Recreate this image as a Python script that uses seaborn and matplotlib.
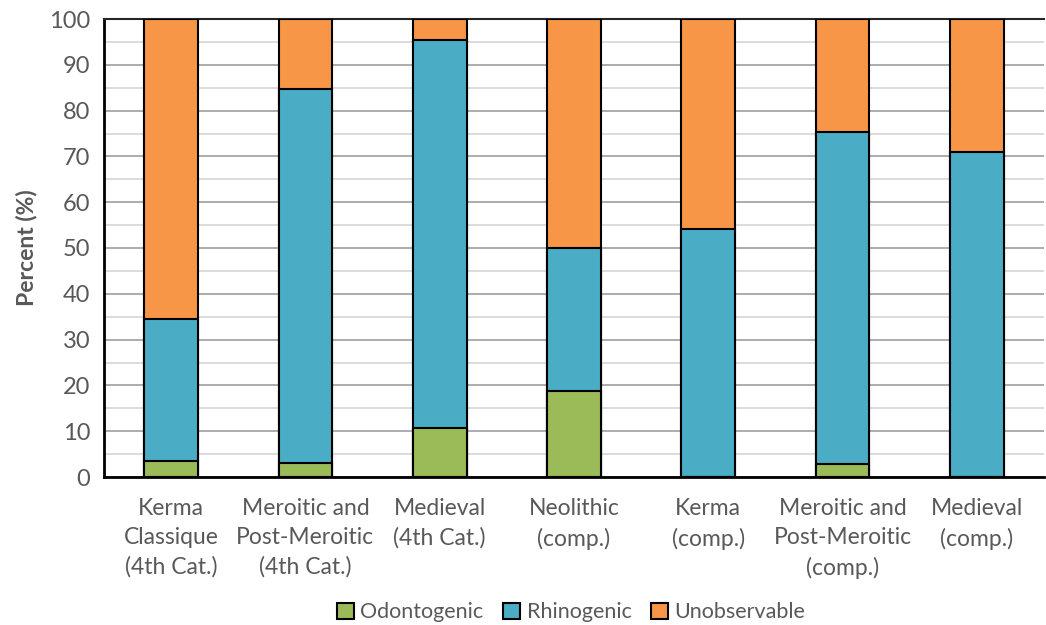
import matplotlib
matplotlib.use("Agg")
import matplotlib.pyplot as plt
import seaborn as sns
import pandas as pd
import numpy as np
from matplotlib.patches import Patch
from matplotlib.ticker import MultipleLocator

categories = [
    "Kerma\nClassique\n(4th Cat.)",
    "Meroitic and\nPost-Meroitic\n(4th Cat.)",
    "Medieval\n(4th Cat.)",
    "Neolithic\n(comp.)",
    "Kerma\n(comp.)",
    "Meroitic and\nPost-Meroitic\n(comp.)",
    "Medieval\n(comp.)",
]
odontogenic = [3.5, 3.0, 10.8, 18.8, 0.0, 2.9, 0.0]
rhinogenic = [31.0, 81.8, 84.7, 31.2, 54.2, 72.5, 70.9]
unobservable = [65.5, 15.2, 4.5, 50.0, 45.8, 24.6, 29.1]

series_names = ["Odontogenic", "Rhinogenic", "Unobservable"]
colors = {"Odontogenic": "#9BBB59", "Rhinogenic": "#4BACC6", "Unobservable": "#F79646"}
text_color = "#595959"

sns.set_theme(style="white")
plt.rcParams["font.family"] = ["Lato", "DejaVu Sans"]

df = pd.DataFrame({
    "category": categories,
    "Odontogenic": odontogenic,
    "Rhinogenic": rhinogenic,
    "Unobservable": unobservable,
})
# cumulative tops for stacking, drawn back-to-front
df["cum_odo"] = df["Odontogenic"]
df["cum_rhi"] = df["cum_odo"] + df["Rhinogenic"]
df["cum_uno"] = df["cum_rhi"] + df["Unobservable"]

fig = plt.figure(figsize=(10.46, 6.25), dpi=100)
ax = fig.add_axes([0.0994, 0.2368, 0.8986, 0.7328])

# gridlines behind bars
ax.set_axisbelow(True)
for layer, name in [("cum_uno", "Unobservable"), ("cum_rhi", "Rhinogenic"), ("cum_odo", "Odontogenic")]:
    sns.barplot(data=df, x="category", y=layer, color=colors[name], width=0.4,
                edgecolor="black", linewidth=1.5, saturation=1, ax=ax, zorder=3)

ax.set_ylim(0, 100)
ax.set_xlim(-0.5, len(categories) - 0.5)
ax.yaxis.set_major_locator(MultipleLocator(10))
ax.yaxis.set_minor_locator(MultipleLocator(5))
ax.grid(axis="y", which="major", color="#A6A6A6", linewidth=1.3, zorder=0)
ax.grid(axis="y", which="minor", color="#D9D9D9", linewidth=1.3, zorder=0)
ax.grid(axis="x", visible=False)

# category separators as x ticks
ax.set_xticks(np.arange(len(categories)))
ax.set_xticklabels(categories, color=text_color, fontsize=16.5, linespacing=1.48)
ax.tick_params(axis="x", which="major", length=0, pad=15)
ax.set_xticks(np.arange(-0.5, len(categories) + 0.5, 1), minor=True)
ax.tick_params(axis="x", which="minor", length=7, width=1.5, color="black", direction="out")
ax.tick_params(axis="y", which="major", length=6, width=1.5, color="black", direction="out",
               labelsize=17, labelcolor=text_color, pad=4)
ax.tick_params(axis="y", which="minor", length=0)

ax.set_xlabel("")
ax.set_ylabel("Percent (%)", fontsize=16.5, fontweight="bold", color=text_color, labelpad=8)

ax.spines["right"].set_visible(False)
ax.spines["top"].set_color("#262626")
ax.spines["top"].set_linewidth(1.5)
ax.spines["left"].set_color("black")
ax.spines["left"].set_linewidth(2)
ax.spines["bottom"].set_color("black")
ax.spines["bottom"].set_linewidth(2)
ax.spines["bottom"].set_zorder(4)

handles = [Patch(facecolor=colors[n], edgecolor="black", linewidth=1.5, label=n) for n in series_names]
fig.legend(handles=handles, loc="center", bbox_to_anchor=(0.546, 0.02), ncol=3, frameon=False,
           fontsize=15.5, labelcolor=text_color, handlelength=0.8, handleheight=0.8,
           handletextpad=0.3, columnspacing=0.9)

fig.savefig("out.png", dpi=100)
